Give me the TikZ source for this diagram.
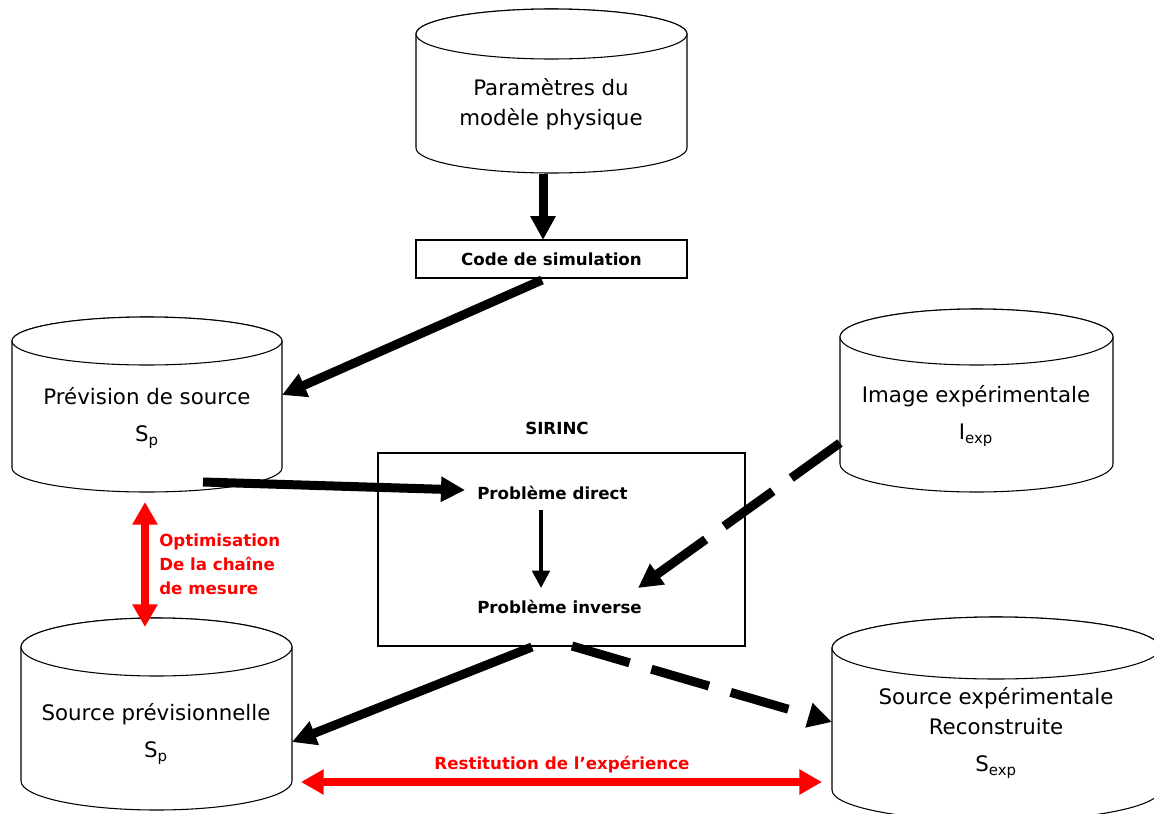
\documentclass[tikz,border=0pt]{standalone}
\usepackage{fontspec}
\setmainfont{DejaVu Sans}
\usetikzlibrary{arrows.meta}
\newcommand\cylshape[5]{%
  \draw[cyl] (#1-#4,#2) -- (#1-#4,#3) arc[start angle=180,end angle=0,x radius=#4,y radius=#5]
    -- (#1+#4,#2) arc[start angle=0,end angle=-180,x radius=#4,y radius=#5] -- cycle;
  \draw[cyl] (#1,#2) ellipse[x radius=#4,y radius=#5];
}
\begin{document}
\begin{tikzpicture}[x=0.75pt,y=-0.75pt,
  cyl/.style={draw=black,line width=0.8pt,fill=white},
  lbl/.style={align=center,font=\fontsize{16}{22.5}\selectfont,inner sep=0pt},
  blbl/.style={font=\fontsize{12.5}{18}\selectfont\bfseries,inner sep=0pt},
  redlbl/.style={blbl,text=red,align=left},
  box/.style={draw,line width=0.8pt,inner sep=0pt},
  big/.style={line width=6.75pt,-{Triangle[length=18pt,width=18pt]}},
  thin/.style={line width=3pt,-{Triangle[length=13pt,width=13pt]}},
  dsh/.style={big,dash pattern=on 45pt off 17pt},
  redarr/.style={red,line width=6.5pt,{Triangle[length=17pt,width=18pt]}-{Triangle[length=17pt,width=18pt]}}
]
\useasboundingbox (0,0) rectangle (1154,814);
\fill[white] (0,0) rectangle (1154,814);
\clip (0,0) rectangle (1154,814);

% cylinders
\cylshape{551.5}{34}{148}{135.5}{25}
\cylshape{147}{341}{468}{135}{24}
\cylshape{976.5}{337}{464}{136.5}{28}
\cylshape{156.5}{647}{781}{135.5}{29}
\cylshape{996}{648}{790}{164}{31}

\node[lbl] (param) at (551,104) {Paramètres du\\modèle physique};
\node[lbl] (prev) at (147,418) {Prévision de source\\[5pt]S\textsubscript{p}};
\node[lbl] (img) at (976,416) {Image expérimentale\\[5pt]I\textsubscript{exp}};
\node[lbl] (srcprev) at (156,734) {Source prévisionnelle\\[5pt]S\textsubscript{p}};
\node[lbl] (srcexp) at (996,733) {Source expérimentale\\Reconstruite\\[5pt]S\textsubscript{exp}};

% boxes
\node[box,minimum width=203.25pt,minimum height=28.5pt,font=\fontsize{12.5}{18}\selectfont\bfseries] (code) at (551.5,259) {Code de simulation};
\node[box,minimum width=275.25pt,minimum height=144.75pt] (sirinc) at (561.5,549.5) {};
\node[blbl] (sirtitle) at (557,428) {SIRINC};
\node[blbl,anchor=west] (direct) at (477,493) {Problème direct};
\node[blbl,anchor=west] (inverse) at (477,607) {Problème inverse};

% connector end points
\coordinate (pA) at (543,174);
\coordinate (pCode) at (543,240);
\coordinate (cS) at (542,280);
\coordinate (bR) at (282,395);
\coordinate (bB) at (203,482);
\coordinate (dW) at (465,490);
\coordinate (dS) at (541,510);
\coordinate (iN) at (541,588);
\coordinate (cL) at (840,443);
\coordinate (iE) at (638,588);
\coordinate (sL) at (532,647);
\coordinate (dR) at (292,742);
\coordinate (sR) at (572,646);
\coordinate (eL) at (832,722);
\coordinate (rT) at (145,502);
\coordinate (rB) at (145,627);
\coordinate (hL) at (301,782);
\coordinate (hR) at (822,782);

\draw[big] (pA) -- (pCode);
\draw[big] (cS) -- (bR);
\draw[big] (bB) -- (dW);
\draw[thin] (dS) -- (iN);
\draw[dsh] (cL) -- (iE);
\draw[big] (sL) -- (dR);
\draw[dsh] (sR) -- (eL);
\draw[redarr] (rT) -- (rB);
\draw[redarr] (hL) -- (hR);

\node[redlbl,anchor=west] (optim) at (159,564) {Optimisation\\De la chaîne\\de mesure};
\node[blbl,text=red] (restit) at (562,765) {Restitution de l’expérience};
\end{tikzpicture}
\end{document}
